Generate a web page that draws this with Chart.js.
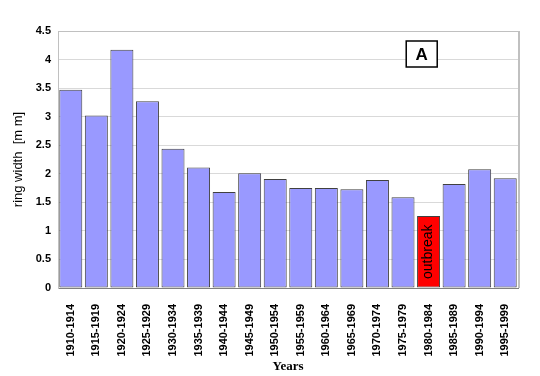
<!DOCTYPE html>
<html>
<head>
<meta charset="utf-8">
<script src="https://cdn.jsdelivr.net/npm/chart.js@4"></script>
<style>
  html, body { margin: 0; padding: 0; background: #fff; }
  #wrap { width: 540px; height: 376px; position: relative; }
</style>
</head>
<body>
<div id="wrap"><canvas id="ringChart"></canvas></div>
<script>
const periods = [
  "1910-1914", "1915-1919", "1920-1924", "1925-1929", "1930-1934", "1935-1939",
  "1940-1944", "1945-1949", "1950-1954", "1955-1959", "1960-1964", "1965-1969",
  "1970-1974", "1975-1979", "1980-1984", "1985-1989", "1990-1994", "1995-1999"
];
const ringWidth = [
  3.47, 3.02, 4.17, 3.27, 2.44, 2.11, 1.68, 2.01, 1.91,
  1.75, 1.75, 1.73, 1.89, 1.59, 1.26, 1.82, 2.08, 1.92
];
const outbreakPeriod = "1980-1984";
const yTicks = [0, 0.5, 1, 1.5, 2, 2.5, 3, 3.5, 4, 4.5];

const sans = "'Liberation Sans', Arial, sans-serif";
const barFill = periods.map((p) => (p === outbreakPeriod ? "#ff0000" : "#9999ff"));

// plot frame (top and right edges) plus the "A" panel label
const framePlugin = {
  id: "frame",
  afterDatasetsDraw(chart) {
    const { ctx, chartArea: a } = chart;
    ctx.save();
    ctx.strokeStyle = "#c0c0c0";
    ctx.lineWidth = 1;
    ctx.beginPath();
    ctx.moveTo(a.left, a.top + 0.5);
    ctx.lineTo(a.right, a.top + 0.5);
    ctx.stroke();
    ctx.lineWidth = 2;
    ctx.beginPath();
    ctx.moveTo(a.right + 1, a.top);
    ctx.lineTo(a.right + 1, a.bottom);
    ctx.stroke();

    // "outbreak" written inside its bar
    const idx = periods.indexOf(outbreakPeriod);
    const bar = chart.getDatasetMeta(0).data[idx];
    ctx.fillStyle = "#000";
    ctx.font = "14px " + sans;
    ctx.textAlign = "center";
    ctx.textBaseline = "middle";
    ctx.translate(bar.x, (bar.y + bar.base) / 2);
    ctx.rotate(-Math.PI / 2);
    ctx.fillText("outbreak", 0, 0);
    ctx.restore();

    // panel label box
    ctx.save();
    const bx = a.left + (a.right - a.left) * 0.757;
    const by = a.top + 10;
    ctx.fillStyle = "#fff";
    ctx.fillRect(bx, by, 31, 26);
    ctx.strokeStyle = "#000";
    ctx.lineWidth = 1.5;
    ctx.strokeRect(bx, by, 31, 26);
    ctx.fillStyle = "#000";
    ctx.font = "bold 17px " + sans;
    ctx.textAlign = "center";
    ctx.textBaseline = "middle";
    ctx.fillText("A", bx + 15.5, by + 14);
    ctx.restore();
  }
};

new Chart(document.getElementById("ringChart"), {
  type: "bar",
  data: {
    labels: periods,
    datasets: [{
      data: ringWidth,
      backgroundColor: barFill,
      borderColor: "#404040",
      borderWidth: 1,
      borderSkipped: false,
      barPercentage: 0.9,
      categoryPercentage: 1.0
    }]
  },
  options: {
    responsive: true,
    maintainAspectRatio: false,
    animation: false,
    layout: { padding: { top: 31, right: 22, bottom: 2, left: 11 } },
    plugins: { legend: { display: false }, tooltip: { enabled: false } },
    scales: {
      x: {
        grid: { display: false },
        border: { color: "#808080", width: 1 },
        ticks: {
          color: "#000",
          minRotation: 90,
          maxRotation: 90,
          autoSkip: false,
          padding: 8,
          font: { family: sans, size: 11, weight: "bold" }
        },
        title: {
          display: true,
          text: "Years",
          color: "#000",
          padding: { top: 3, bottom: 0 },
          font: { family: "'Liberation Serif', 'Times New Roman', serif", size: 13, weight: "bold" }
        },
        afterFit: (scale) => { scale.height = 86; }
      },
      y: {
        min: 0,
        max: 4.5,
        afterBuildTicks: (scale) => { scale.ticks = yTicks.map((v) => ({ value: v })); },
        grid: { color: "#d9d9d9", drawTicks: false },
        border: { color: "#c0c0c0", width: 1 },
        ticks: {
          color: "#000",
          padding: 7,
          callback: (v) => String(v),
          font: { family: sans, size: 11, weight: "bold" }
        },
        title: {
          display: true,
          text: "ring width  [m m]",
          color: "#000",
          padding: { top: 0, bottom: 2 },
          font: { family: sans, size: 13 }
        },
        afterFit: (scale) => { scale.width = 47; }
      }
    }
  },
  plugins: [framePlugin]
});
</script>
</body>
</html>
